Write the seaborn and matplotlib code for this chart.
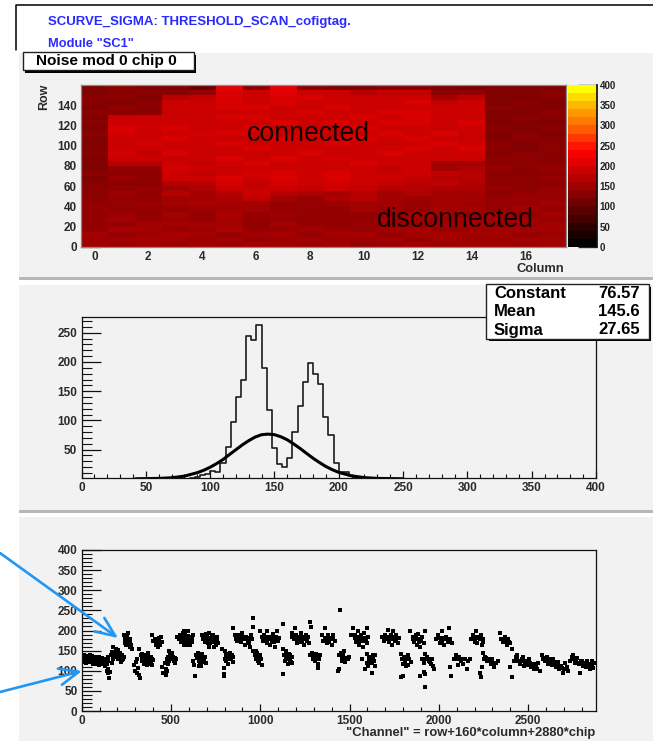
import pandas as pd
import matplotlib
matplotlib.use('Agg')
import matplotlib.pyplot as plt
from matplotlib.colors import LinearSegmentedColormap
from matplotlib.patches import Rectangle, FancyArrowPatch
from matplotlib.ticker import MultipleLocator
import seaborn as sns

# --- data ---

# noise per 5 rows (bottom row first), one value per column
noise_map = [
    [150,145,150,145,150,145,150,150,145,150,140,145,150,145,150,150,145,150],
    [145,150,155,150,145,150,140,145,150,145,145,150,140,150,145,145,150,150],
    [150,140,145,155,150,140,150,155,140,150,155,140,150,155,150,150,140,145],
    [140,155,150,140,145,160,140,140,150,145,140,150,155,140,145,150,150,150],
    [135,140,150,150,150,150,135,150,140,135,140,145,140,150,150,140,145,150],
    [140,150,140,145,140,150,135,140,135,140,135,150,150,145,150,150,150,140],
    [135,145,135,150,140,160,140,145,140,135,140,140,150,150,140,150,140,150],
    [140,135,140,140,145,150,150,140,135,140,150,145,140,150,150,140,150,140],
    [135,140,145,150,160,155,150,140,140,145,150,150,140,150,145,140,140,150],
    [130,140,135,150,150,160,180,150,140,160,170,150,145,150,150,140,145,140],
    [130,145,140,170,150,170,190,170,160,150,170,150,160,150,150,130,140,140],
    [130,135,140,150,160,190,185,190,180,190,180,170,170,160,160,140,130,140],
    [125,130,130,165,170,195,180,195,190,195,190,180,170,180,165,130,130,130],
    [120,140,130,190,190,200,190,200,190,200,190,190,180,170,170,130,130,140],
    [130,130,130,190,180,190,195,200,190,200,190,185,190,180,170,130,125,130],
    [120,140,140,195,190,185,190,190,190,190,190,180,190,150,160,140,130,140],
    [120,170,170,190,180,190,200,190,185,190,200,190,190,150,150,130,130,130],
    [120,190,190,185,190,200,190,200,190,195,190,190,190,190,190,130,130,125],
    [125,195,180,200,190,190,185,190,200,190,185,200,190,185,190,120,130,130],
    [120,190,190,190,185,190,200,190,190,185,190,190,200,190,200,130,120,130],
    [120,185,195,190,190,200,190,185,190,200,190,185,190,200,190,130,120,130],
    [120,190,190,200,190,185,190,200,190,190,200,190,200,190,185,120,130,125],
    [130,195,185,190,195,200,190,190,200,185,190,200,190,200,190,120,125,120],
    [120,200,190,200,190,190,200,190,185,190,200,190,190,185,190,125,120,130],
    [125,190,190,190,185,190,190,200,190,200,190,200,200,190,200,120,120,120],
    [120,185,190,190,190,200,200,190,190,190,200,190,200,190,185,120,130,125],
    [130,130,130,185,190,190,190,190,200,190,190,200,200,190,190,120,120,130],
    [120,135,125,190,190,200,200,190,185,200,190,190,190,190,190,125,120,120],
    [125,120,130,190,185,200,190,200,190,190,185,190,200,180,190,120,125,120],
    [130,130,120,170,180,200,190,200,200,190,190,190,190,150,170,120,120,125],
    [120,125,130,130,140,200,190,210,190,190,170,180,180,130,140,120,120,130],
    [120,130,120,120,100,210,130,210,130,120,120,130,130,120,110,120,120,120],
]
map_columns = list(range(18))
map_rows = list(range(0, 160, 5))

# the twenty steps of the colour scale
scale_levels = [10,30,50,70,90,110,130,150,170,190,210,230,250,270,290,310,330,350,370,390]

hist_left = [84,88,92,96,100,104,108,112,116,120,124,128,132,136,140,144,148,152,156,160,
             164,168,172,176,180,184,188,192,196,200,204,208,212,216,220]
hist_count = [2,3,6,8,13,12,27,55,98,140,170,244,237,263,190,117,53,25,20,36,
              80,125,166,198,180,163,106,75,27,12,12,5,3,2,1]

fit_x = [42,60,70,80,90,95,100,105,110,115,120,125,130,135,140,145,150,155,160,165,170,175,
         180,185,190,195,200,210,220,230,250]
fit_y = [0.07,0.7,1.8,4.6,10.5,14.6,19.8,26,33,41.5,49.8,58,65.3,71.5,75.5,76.5,75.6,72,66.8,
         59.6,51.9,43.5,35.3,27.9,21.1,15.6,11,5.1,2,0.7,0.06]

scatter_pts = [
    (3,135),(8,128),(12,140),(18,132),(22,125),(27,137),(32,130),(38,134),(42,122),(47,138),(52,127),(56,133),
    (62,129),(66,118),(72,131),(77,124),(82,135),(88,120),(92,128),(97,114),(102,126),(107,119),(112,131),
    (118,116),(122,124),(127,128),(132,112),(137,122),(142,118),(147,125),(140,100),(145,94),(150,105),
    (155,82),(160,96),(150,135),(5,122),(15,126),(25,120),(35,126),(45,128),(60,136),(75,118),(95,134),
    (165,140),(172,147),(178,130),(183,138),(188,145),(193,134),(198,141),(203,128),(208,137),(213,143),
    (218,132),(223,127),(228,138),(233,130),(238,135),(176,158),(190,155),(205,152),(220,122),(170,120),
    (238,190),(245,178),(250,172),(254,185),(258,168),(263,175),(268,160),(272,180),(277,165),(282,155),
    (260,195),(240,170),(265,165),(270,172),(248,163),(256,176),
    (295,115),(300,100),(305,122),(310,95),(315,108),(310,130),(320,90),(325,82),(330,140),(335,125),
    (340,135),(345,130),(350,118),(355,140),(360,125),(365,135),(370,122),(375,130),(380,118),(385,128),
    (390,135),(395,115),(400,126),(372,145),(320,155),(338,142),(348,138),(358,128),(368,115),(388,122),
    (395,190),(400,175),(410,180),(420,170),(425,160),(430,178),(440,165),(435,182),(445,185),(450,172),(415,165),
    (450,110),(455,95),(465,120),(470,105),(475,125),(480,130),(485,135),(490,125),(495,140),(500,128),
    (505,145),(510,135),(515,125),(520,132),(525,120),(530,130),(490,150),(470,90),(475,100),(482,118),(498,134),
    (535,185),(545,178),(550,190),(555,172),(560,183),(565,195),(570,175),(575,165),(580,188),(585,170),
    (590,180),(595,200),(600,175),(605,165),(610,185),(615,172),(620,178),(625,190),(590,165),(575,200),
    (558,176),(572,184),(598,186),(612,178),
    (625,125),(630,115),(632,88),(640,140),(645,132),(650,145),(655,125),(660,138),(665,118),(670,130),
    (675,142),(680,122),(685,128),(690,135),(695,120),(655,112),(670,112),
    (675,190),(680,180),(690,172),(695,192),(700,185),(705,170),(710,178),(715,193),(720,168),(725,182),
    (730,188),(735,172),(740,160),(745,178),(750,165),(755,185),(760,175),(765,170),(715,158),(735,190),(700,178),(722,178),
    (785,155),(795,108),(795,92),(795,86),(800,130),(805,148),(810,125),(815,140),(820,118),(825,132),
    (830,145),(835,128),(840,138),(845,122),(850,135),(810,138),(825,142),
    (845,205),(860,190),(865,180),(870,175),(880,185),(890,172),(895,195),(905,178),(915,165),(920,185),
    (930,175),(935,170),(945,160),(950,190),(955,180),(960,208),(958,230),(875,190),(900,183),(925,182),
    (960,150),(970,140),(975,130),(980,145),(985,125),(990,135),(995,120),(1000,138),(1005,128),(1010,115),(975,150),(985,140),
    (1000,200),(1010,185),(1015,175),(1020,190),(1030,178),(1035,198),(1040,170),(1050,185),(1055,165),(1060,180),
    (1070,192),(1075,172),(1085,160),(1090,185),(1095,198),(1100,175),(1105,182),(1025,184),(1065,175),(1080,185),
    (1125,92),(1125,215),(1130,155),(1135,140),(1140,125),(1145,148),(1150,132),(1155,118),(1160,142),(1165,128),
    (1170,122),(1175,135),(1180,120),(1150,142),(1165,138),
    (1175,185),(1180,195),(1190,178),(1195,205),(1200,190),(1205,170),(1215,185),(1225,172),(1230,195),(1240,180),
    (1245,165),(1255,190),(1260,175),(1265,185),(1275,170),(1280,222),(1283,208),(1210,180),(1235,175),(1250,182),
    (1280,140),(1290,145),(1295,130),(1300,138),(1305,125),(1310,142),(1320,132),(1325,118),(1330,128),(1335,140),(1325,108),
    (1345,190),(1350,175),(1360,205),(1365,182),(1375,170),(1380,190),(1390,178),(1400,165),(1405,188),(1410,180),(1420,175),(1385,172),
    (1440,140),(1445,250),(1435,100),(1450,145),(1455,130),(1460,125),(1465,138),(1470,148),(1475,122),(1480,132),(1490,128),(1495,135),(1440,104),
    (1510,188),(1520,205),(1530,190),(1535,172),(1545,198),(1550,180),(1555,165),(1565,188),(1570,175),(1575,160),
    (1580,195),(1590,178),(1595,205),(1600,170),(1605,185),(1545,175),(1575,182),
    (1570,130),(1585,105),(1595,142),(1600,120),(1605,112),(1610,134),(1620,128),(1625,120),(1630,138),(1635,125),(1645,140),(1625,95),(1640,112),
    (1680,185),(1695,175),(1700,190),(1710,180),(1715,202),(1720,172),(1730,188),(1735,165),(1740,180),(1745,200),
    (1755,175),(1760,188),(1770,170),(1775,182),(1705,184),(1725,180),(1750,180),
    (1790,142),(1795,130),(1800,118),(1805,135),(1810,122),(1820,128),(1825,140),(1830,115),(1835,130),(1845,122),(1790,85),(1800,88),(1815,112),
    (1840,200),(1855,185),(1860,172),(1870,190),(1875,165),(1880,180),(1890,172),(1895,158),(1905,185),(1915,170),(1925,200),(1885,192),
    (1895,88),(1905,130),(1915,120),(1925,142),(1935,135),(1950,122),(1960,130),(1965,112),(1920,92),(1915,98),(1925,60),(1945,125),(1975,105),
    (1985,180),(1995,190),(2005,170),(2015,200),(2020,175),(2030,165),(2040,185),(2050,172),(2055,205),(2065,180),(2075,170),(2010,180),(2045,178),
    (2060,110),(2070,88),(2085,130),(2095,140),(2105,115),(2115,135),(2125,125),(2135,118),(2145,130),(2155,105),(2165,125),(2175,128),
    (2180,180),(2190,190),(2200,172),(2210,200),(2220,182),(2230,178),(2240,165),(2250,172),(2215,170),(2235,190),
    (2230,95),(2235,85),(2240,110),(2250,145),(2260,135),(2270,125),(2280,130),(2290,118),(2300,128),(2310,110),(2320,120),(2330,125),(2255,130),
    (2340,195),(2350,180),(2360,172),(2370,185),(2380,165),(2390,178),(2400,170),(2410,155),
    (2400,110),(2410,85),(2420,125),(2430,135),(2445,125),(2455,118),(2465,130),(2475,112),(2485,125),(2495,115),(2505,128),
    (2515,110),(2525,118),(2535,105),(2545,112),(2555,120),(2565,100),(2440,140),(2470,135),(2510,120),(2540,118),(2550,105),
    (2575,140),(2585,130),(2595,125),(2605,135),(2615,122),(2625,128),(2635,115),(2645,122),(2655,110),(2665,118),
    (2675,105),(2685,112),(2695,95),(2705,120),(2715,110),(2725,100),(2610,118),(2640,130),(2670,122),(2700,105),
    (2735,125),(2745,135),(2755,128),(2765,120),(2775,132),(2785,118),(2795,125),(2805,112),(2815,120),(2825,110),
    (2835,118),(2845,105),(2855,115),(2865,108),(2875,120),(2790,95),(2750,140),(2800,125),(2830,125),(2860,125),
]

# black centres of the dense clusters
scatter_core = [
    (10,132),(20,130),(30,128),(40,130),(50,131),(70,126),(85,127),(100,122),(115,123),(125,120),
    (180,142),(195,138),(210,132),(225,134),(252,178),(258,175),(262,170),(345,134),(352,128),(362,132),
    (372,128),(382,126),(392,128),(420,175),(432,172),(488,130),(498,130),(508,138),(518,130),
    (555,180),(568,178),(582,178),(596,182),(605,178),(652,135),(662,130),(672,128),(680,132),
    (695,182),(705,180),(718,178),(728,176),(738,180),(750,178),(815,132),(825,128),(835,135),
    (875,180),(888,180),(900,178),(915,178),(930,180),(975,140),(985,132),(995,130),
    (1025,180),(1040,182),(1055,178),(1070,182),(1085,178),(1145,135),(1155,130),(1165,125),
    (1190,188),(1205,182),(1220,180),(1238,185),(1255,182),(1300,130),(1312,135),(1325,128),
    (1365,180),(1378,182),(1392,182),(1408,182),(1455,138),(1465,132),(1478,130),
    (1530,182),(1545,185),(1560,180),(1575,175),(1590,182),(1610,125),(1620,122),(1632,130),
    (1695,182),(1712,185),(1728,178),(1745,185),(1760,178),(1805,128),(1815,130),(1828,132),
    (1855,178),(1870,182),(1885,178),(1900,175),(1930,128),(1945,130),(1955,118),
    (2005,182),(2020,182),(2035,178),(2050,180),(2095,130),(2108,128),(2122,128),(2135,128),
    (2200,182),(2215,185),(2230,180),(2245,180),(2265,132),(2278,124),(2292,122),(2305,120),
    (2365,178),(2378,175),(2392,172),(2440,128),(2460,125),(2480,120),(2500,120),(2520,118),(2540,112),
    (2590,132),(2610,128),(2630,122),(2650,118),(2670,114),(2690,108),(2745,128),(2770,126),(2790,120),(2815,115),(2840,112),
]

heat_ticks = [0, 50, 100, 150, 200, 250, 300, 350, 400]
stats_names = ['Constant', 'Mean', 'Sigma']
stats_values = ['76.57', '145.6', '27.65']

# --- figure setup ---

W, H = 653, 741
PANEL = '#f2f2f2'
TICK = '#2a2a2a'
sns.set_theme(style='white')
plt.rcParams['font.family'] = ['Liberation Sans', 'DejaVu Sans']
plt.rcParams['font.weight'] = 'bold'

fig = plt.figure(figsize=(W / 100, H / 100), dpi=100, facecolor='white')


def px_axes(left, top, right, bottom):
    return fig.add_axes([left / W, 1 - bottom / H, (right - left) / W, (bottom - top) / H])


def px_rect(left, top, right, bottom, **kw):
    fig.add_artist(Rectangle((left / W, 1 - bottom / H), (right - left) / W, (bottom - top) / H,
                             transform=fig.transFigure, **kw))


def style_axis(ax):
    for sp in ax.spines.values():
        sp.set_visible(True)
        sp.set_color('#111111')
        sp.set_linewidth(0.9)
    ax.tick_params(which='major', direction='in', length=7, width=0.9, labelsize=8.5,
                   colors='#111111', labelcolor=TICK, pad=3, left=True, bottom=True)
    ax.tick_params(which='minor', direction='in', length=4, width=0.8, colors='#111111',
                   left=True, bottom=True)


# panels behind the three plots
px_rect(19, 53, W, 277, fc=PANEL, ec='none', zorder=-2)
px_rect(19, 277, W, 280, fc='#b8b8b8', ec='none', zorder=-2)
px_rect(19, 285, W, 510, fc=PANEL, ec='none', zorder=-2)
px_rect(19, 510, W, 513, fc='#b8b8b8', ec='none', zorder=-2)
px_rect(19, 517, W, H, fc=PANEL, ec='none', zorder=-2)

# black frame of the page header
fig.add_artist(plt.Line2D([16 / W, 16 / W, 1], [1 - 50 / H, 1 - 5 / H, 1 - 5 / H],
                          color='black', lw=1.1, transform=fig.transFigure))
fig.text(48 / W, 1 - 22 / H, 'SCURVE_SIGMA: THRESHOLD_SCAN_cofigtag.', color='#2a2aff',
         fontsize=9.5, va='center')
fig.text(48 / W, 1 - 44 / H, 'Module "SC1"', color='#2a2aff', fontsize=9.3, va='center')

# --- heat map ---

hot_anchors = [(0, '#000000'), (0.5, '#d80000'), (0.6, '#ff0000'), (0.75, '#ff6400'),
               (0.875, '#ffaa00'), (1, '#ffff00')]
map_cmap = LinearSegmentedColormap.from_list('root_hot', hot_anchors, N=256)
scale_cmap = LinearSegmentedColormap.from_list('root_hot_steps', hot_anchors, N=20)
map_df = pd.DataFrame(noise_map, index=map_rows, columns=map_columns)

ax_map = px_axes(81, 85, 566, 247)
ax_cb = px_axes(568, 85, 597, 247)
sns.heatmap(map_df, ax=ax_map, cbar=False, cmap=map_cmap, vmin=0, vmax=400,
            xticklabels=False, yticklabels=False)
ax_map.set_ylim(0, len(map_rows))
ax_map.set_xlabel('')
ax_map.set_ylabel('')
style_axis(ax_map)
ax_map.set_xticks([c + 0.5 for c in range(0, 18, 2)], [str(c) for c in range(0, 18, 2)])
ax_map.set_xticks([c + 0.5 for c in range(1, 18, 2)], minor=True)
ax_map.set_yticks([r / 5 for r in range(0, 160, 20)], [str(r) for r in range(0, 160, 20)])
ax_map.set_yticks([r / 5 for r in range(0, 160, 4)], minor=True)
ax_map.tick_params(axis='x', which='major', length=5)
ax_map.tick_params(axis='x', which='minor', length=3)
ax_map.tick_params(axis='y', which='major', length=14)
ax_map.tick_params(axis='y', which='minor', length=7)
for sp in ax_map.spines.values():
    sp.set_color('#8a8a8a')

# colour scale, drawn step by step
sns.heatmap(pd.DataFrame({'noise': scale_levels}), ax=ax_cb, cbar=False, cmap=scale_cmap, vmin=0, vmax=400,
            xticklabels=False, yticklabels=False)
ax_cb.set_ylim(0, len(scale_levels))
ax_cb.set_xlabel('')
ax_cb.set_ylabel('')
ax_cb.yaxis.tick_right()
ax_cb.set_yticks([t / 20 for t in heat_ticks], [str(t) for t in heat_ticks])
ax_cb.tick_params(axis='y', direction='in', length=14, width=1, labelsize=7,
                  colors='#222222', right=True, pad=2)
ax_cb.spines['right'].set_visible(True)
ax_cb.spines['right'].set_color('#111111')

fig.text(44 / W, 1 - 97 / H, 'Row', rotation=90, fontsize=9, color=TICK, ha='center', va='center')
fig.text(564 / W, 1 - 269 / H, 'Column', fontsize=9.3, color=TICK, ha='right', va='center')
fig.text(308 / W, 1 - 134 / H, 'connected', fontsize=19.2, fontweight='normal', color='#150000',
         ha='center', va='center')
fig.text(455 / W, 1 - 220 / H, 'disconnected', fontsize=19.2, fontweight='normal', color='#150000',
         ha='center', va='center')

# title box with its shadow
px_rect(25, 55, 196, 73, fc='black', ec='none', zorder=4)
px_rect(23, 52, 194, 70, fc='white', ec='#222222', lw=1, zorder=5)
fig.text(36 / W, 1 - 61 / H, 'Noise mod 0 chip 0', fontsize=11.1, color='black', va='center', zorder=6)

# --- histogram with the gaussian fit ---

hist_df = pd.DataFrame({'left': hist_left, 'count': hist_count})

ax_hist = px_axes(81.5, 317, 596, 478)
ax_hist.set_facecolor(PANEL)
sns.histplot(data=hist_df, x='left', weights='count', bins=100, binrange=(0, 400), element='step',
             fill=False, color='#1c1c1c', linewidth=1.2, ax=ax_hist)
sns.lineplot(x=fit_x, y=fit_y, color='black', linewidth=2.2, ax=ax_hist)
ax_hist.set_xlim(0, 400)
ax_hist.set_ylim(1.4, 277)
ax_hist.set_xlabel('')
ax_hist.set_ylabel('')
style_axis(ax_hist)
ax_hist.xaxis.set_major_locator(MultipleLocator(50))
ax_hist.xaxis.set_minor_locator(MultipleLocator(10))
ax_hist.set_yticks([50, 100, 150, 200, 250])
ax_hist.yaxis.set_minor_locator(MultipleLocator(10))
ax_hist.tick_params(axis='x', which='major', length=5)
ax_hist.tick_params(axis='x', which='minor', length=3)
ax_hist.tick_params(axis='y', which='major', length=14)
ax_hist.tick_params(axis='y', which='minor', length=7)

# fit parameter box
px_rect(489, 287, 651, 341, fc='black', ec='none', zorder=4)
px_rect(486, 284, 649, 339, fc='white', ec='#222222', lw=1, zorder=5)
for row, (name, value) in enumerate(zip(stats_names, stats_values)):
    y = 1 - (293 + row * 18.5) / H
    fig.text(494 / W, y, name, fontsize=12, color='black', va='center', zorder=6)
    fig.text(640 / W, y, value, fontsize=12, color='black', va='center', ha='right', zorder=6)

# --- noise per channel ---

scatter_df = pd.DataFrame(scatter_pts + scatter_core, columns=['channel', 'noise'])

ax_sc = px_axes(81.7, 550, 596, 711)
ax_sc.set_facecolor(PANEL)
sns.scatterplot(data=scatter_df, x='channel', y='noise', marker='s', s=7, color='black',
                linewidth=0, ax=ax_sc)
ax_sc.set_xlim(0, 2880)
ax_sc.set_ylim(0, 400)
ax_sc.set_xlabel('')
ax_sc.set_ylabel('')
style_axis(ax_sc)
ax_sc.xaxis.set_major_locator(MultipleLocator(500))
ax_sc.xaxis.set_minor_locator(MultipleLocator(100))
ax_sc.yaxis.set_major_locator(MultipleLocator(50))
ax_sc.yaxis.set_minor_locator(MultipleLocator(10))
ax_sc.tick_params(axis='x', which='major', length=5)
ax_sc.tick_params(axis='x', which='minor', length=3)
ax_sc.tick_params(axis='y', which='major', length=14)
ax_sc.tick_params(axis='y', which='minor', length=7)
fig.text(595 / W, 1 - 733 / H, '"Channel" = row+160*column+2880*chip', fontsize=9.4, color=TICK,
         ha='right', va='center')

# blue arrows pointing at the two bands
for tail, head in [((0, 553), (118, 638)), ((0, 692), (82, 671))]:
    fig.add_artist(FancyArrowPatch(
        (tail[0] / W, 1 - tail[1] / H), (head[0] / W, 1 - head[1] / H),
        transform=fig.transFigure, arrowstyle='->,head_length=14,head_width=6',
        color='#2196f3', lw=1.9, shrinkA=0, shrinkB=0, zorder=7))

fig.savefig('out.png', dpi=100)
